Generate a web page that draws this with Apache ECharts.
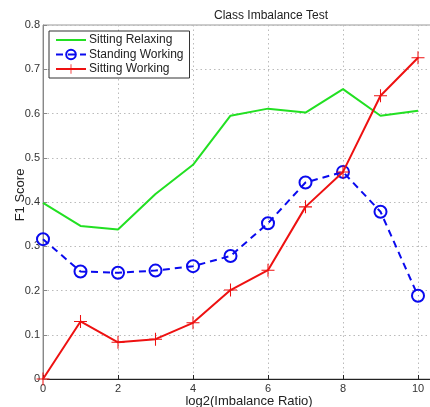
<!DOCTYPE html>
<html><head><meta charset="utf-8">
<script src="https://cdn.jsdelivr.net/npm/echarts@6/dist/echarts.min.js"></script>
<style>html,body{margin:0;padding:0;background:#fff}#c{width:430px;height:407px}</style>
</head><body><div id="c"></div>
<script>
const xValues = [0,1,2,3,4,5,6,7,8,9,10];
const sittingRelaxing = [0.398,0.346,0.338,0.418,0.484,0.595,0.611,0.602,0.655,0.595,0.606];
const standingWorking = [0.316,0.243,0.240,0.245,0.255,0.278,0.352,0.444,0.468,0.378,0.188];
const sittingWorking  = [0.000,0.130,0.083,0.090,0.127,0.201,0.246,0.389,0.468,0.640,0.726];
const seriesNames = ['Sitting Relaxing','Standing Working','Sitting Working'];
const titleText = 'Class Imbalance Test';
const xName = 'log2(Imbalance Ratio)';
const yName = 'F1 Score';

const pair = arr => xValues.map((x,i)=>[x,arr[i]]);
const plus = 'path://M0,4.6H10V5.4H0ZM4.6,0H5.4V10H4.6Z';
const font = 'Liberation Sans, Arial, sans-serif';

const chart = echarts.init(document.getElementById('c'), null, {renderer:'canvas'});
chart.setOption({
  animation:false,
  backgroundColor:'#fff',
  title:{text:titleText,left:209,top:5,textStyle:{fontSize:12,fontWeight:'normal',color:'#222',fontFamily:font}},
  grid:{left:43,top:25,bottom:28,width:450,outerBoundsMode:'none',containLabel:false,show:true,borderColor:'#999',borderWidth:1,backgroundColor:'transparent'},
  legend:{
    orient:'vertical',left:49,top:31,itemWidth:30,itemHeight:12,itemGap:2.5,
    padding:[3,6,3,6],borderColor:'#333',borderWidth:1,backgroundColor:'#fff',
    textStyle:{fontSize:12,color:'#222',fontFamily:font,padding:[0,0,0,-2]},
    data:[{name:seriesNames[0],icon:'path://M0,0H30V2H0Z'},{name:seriesNames[1]},{name:seriesNames[2]}]
  },
  xAxis:{type:'value',min:0,max:12,interval:2,
    name:xName,nameLocation:'middle',nameGap:16,nameMoveOverlap:false,
    nameTextStyle:{fontSize:13,color:'#222',fontFamily:font,padding:[0,38,0,0]},
    axisLine:{lineStyle:{color:'#222',width:1}},
    axisTick:{inside:true,length:4,lineStyle:{color:'#222'}},
    axisLabel:{fontSize:11,color:'#333',margin:4,fontFamily:font},
    splitLine:{show:true,lineStyle:{type:[1.5,3],color:'#bbb'}}
  },
  yAxis:{type:'value',min:0,max:0.8,interval:0.1,
    name:yName,nameLocation:'middle',nameGap:16,nameMoveOverlap:false,
    nameTextStyle:{fontSize:13,color:'#222',fontFamily:font,padding:[0,0,0,14]},
    axisLine:{show:true,lineStyle:{color:'#888',width:1}},
    axisTick:{inside:true,length:4,lineStyle:{color:'#888'}},
    axisLabel:{fontSize:11,color:'#333',margin:3,fontFamily:font},
    splitLine:{show:true,lineStyle:{type:[1.5,3],color:'#bbb'}}
  },
  series:[
    {name:seriesNames[0],type:'line',data:pair(sittingRelaxing),symbol:'none',
     lineStyle:{color:'#22e022',width:2},itemStyle:{color:'#22e022'},z:2},
    {name:seriesNames[1],type:'line',data:pair(standingWorking),symbol:'circle',symbolSize:12,
     lineStyle:{color:'#0a0aee',width:2,type:[7,5]},
     itemStyle:{color:'rgba(0,0,0,0)',borderColor:'#0a0aee',borderWidth:2},z:3},
    {name:seriesNames[2],type:'line',data:pair(sittingWorking),symbol:plus,symbolSize:13,
     lineStyle:{color:'#ee1111',width:2},itemStyle:{color:'#ee1111'},z:4}
  ]
});
</script></body></html>
